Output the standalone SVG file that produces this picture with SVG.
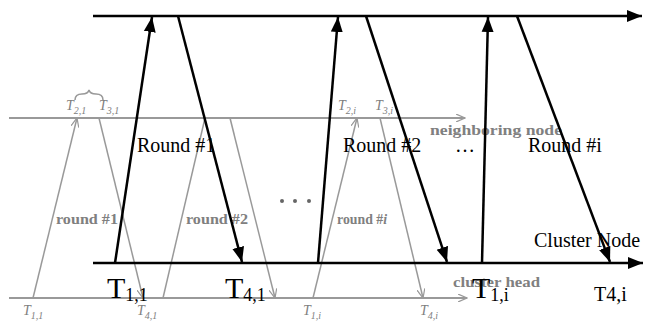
<svg xmlns="http://www.w3.org/2000/svg" width="647" height="322" viewBox="0 0 647 322">
<style>
.blk{stroke:#000;stroke-width:2.5;fill:none}
.gl{stroke:#999;stroke-width:1.8;fill:none}
.gs{stroke:#999;stroke-width:1.5;fill:none}
.lbl{font-family:"Liberation Serif",serif;font-size:20px;fill:#000}
.big{font-family:"Liberation Serif",serif;font-size:30px;fill:#000}
.gt{font-family:"Liberation Serif",serif;font-size:15px;font-weight:bold;fill:#808080}
.gi{font-family:"Liberation Serif",serif;font-size:14px;font-style:italic;fill:#808080}
.gsub{font-size:10px}
</style>
<defs>
<marker id="ab" markerUnits="userSpaceOnUse" markerWidth="16" markerHeight="14" refX="15" refY="7" orient="auto">
<path d="M0,1 L15,7 L0,13 z" fill="#000"/>
</marker>
<marker id="ag" markerUnits="userSpaceOnUse" markerWidth="10" markerHeight="8" refX="9" refY="4" orient="auto">
<path d="M0,0 L9,4 L0,8" fill="none" stroke="#999" stroke-width="1.2"/>
</marker>
</defs>
<g id="grey-timelines">
<line class="gl" x1="9" y1="118" x2="465" y2="118" marker-end="url(#ag)"/>
<line class="gl" x1="9" y1="298" x2="467" y2="298" marker-end="url(#ag)"/>
</g>
<g id="grey-connectors">
<line class="gs" x1="33" y1="298" x2="77" y2="118" marker-end="url(#ag)"/>
<line class="gs" x1="99" y1="118" x2="143" y2="298" marker-end="url(#ag)"/>
<line class="gs" x1="163" y1="298" x2="205" y2="118"/>
<line class="gs" x1="230" y1="118" x2="275" y2="298" marker-end="url(#ag)"/>
<line class="gs" x1="313" y1="298" x2="357" y2="118" marker-end="url(#ag)"/>
<line class="gs" x1="380" y1="118" x2="423" y2="298" marker-end="url(#ag)"/>
<path class="gs" d="M75,100 Q75,94 82,94 Q88,94 89,90 Q90,94 96,94 Q103,94 103,100" stroke-width="1.2"/>
</g>
<g id="grey-labels">
<text class="gt" x="430" y="135" textLength="132" lengthAdjust="spacingAndGlyphs">neighboring node</text>
<text class="gt" x="453" y="287" textLength="87" lengthAdjust="spacingAndGlyphs">cluster head</text>
<text class="gt" x="56" y="224" textLength="62" lengthAdjust="spacingAndGlyphs">round #1</text>
<text class="gt" x="186" y="224" textLength="62" lengthAdjust="spacingAndGlyphs">round #2</text>
<text class="gt" x="337" y="224" textLength="50" lengthAdjust="spacingAndGlyphs">round #<tspan font-style="italic">i</tspan></text>
<circle cx="282" cy="201" r="2" fill="#666"/>
<circle cx="295" cy="201" r="2" fill="#666"/>
<circle cx="309" cy="201" r="2" fill="#666"/>
<text class="gi" x="66" y="110">T<tspan class="gsub" dy="4">2,1</tspan></text>
<text class="gi" x="99" y="110">T<tspan class="gsub" dy="4">3,1</tspan></text>
<text class="gi" x="338" y="110">T<tspan class="gsub" dy="4">2,<tspan font-style="italic">i</tspan></tspan></text>
<text class="gi" x="375" y="110">T<tspan class="gsub" dy="4">3,<tspan font-style="italic">i</tspan></tspan></text>
<text class="gi" x="23" y="315">T<tspan class="gsub" dy="4">1,1</tspan></text>
<text class="gi" x="137" y="315">T<tspan class="gsub" dy="4">4,1</tspan></text>
<text class="gi" x="303" y="315">T<tspan class="gsub" dy="4">1,<tspan font-style="italic">i</tspan></tspan></text>
<text class="gi" x="420" y="315">T<tspan class="gsub" dy="4">4,<tspan font-style="italic">i</tspan></tspan></text>
</g>
<g id="neighboring-node">
<line class="blk" x1="93" y1="16" x2="642" y2="16" marker-end="url(#ab)"/>
</g>
<g id="cluster-node">
<line class="blk" x1="93" y1="263" x2="643" y2="263" marker-end="url(#ab)"/>
<text class="lbl" x="534" y="247">Cluster Node</text>
</g>
<g id="connectors">
<line class="blk" x1="115" y1="263" x2="152" y2="17" marker-end="url(#ab)"/>
<line class="blk" x1="178" y1="16" x2="242" y2="262" marker-end="url(#ab)"/>
<line class="blk" x1="318" y1="263" x2="338" y2="17" marker-end="url(#ab)"/>
<line class="blk" x1="366" y1="16" x2="447" y2="262" marker-end="url(#ab)"/>
<line class="blk" x1="482" y1="263" x2="488" y2="17" marker-end="url(#ab)"/>
<line class="blk" x1="517" y1="16" x2="610" y2="262" marker-end="url(#ab)"/>
</g>
<g id="labels">
<text class="lbl" x="137" y="152">Round #1</text>
<text class="lbl" x="343" y="152">Round #2</text>
<text class="lbl" x="455" y="152">…</text>
<text class="lbl" x="528" y="152">Round #i</text>
<text class="big" x="107" y="298">T<tspan font-size="18" dy="3">1,1</tspan></text>
<text class="big" x="225" y="298">T<tspan font-size="18" dy="3">4,1</tspan></text>
<text class="big" x="472" y="298">T<tspan font-size="18" dy="3">1,i</tspan></text>
<text class="lbl" x="594" y="301">T4,i</text>
</g>
</svg>
